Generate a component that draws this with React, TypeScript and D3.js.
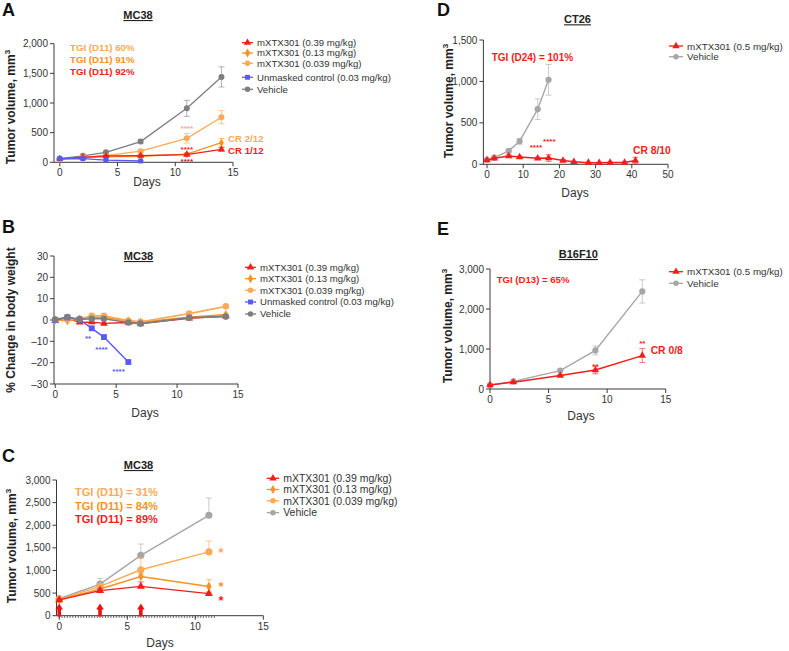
import React from 'react';
import * as d3 from 'd3';

const FONT = '"Liberation Sans", Arial, Helvetica, sans-serif';
const RED = '#f41c1c';
const ORANGE = '#f7931e';
const LORANGE = '#fbaa55';
const BLUE = '#5a5af3';
const GREY_DK = '#7e7e7e';
const GREY = '#a6a6a6';
const AXIS = '#3a3a3a';
const TXT = '#333333';

// ---------- Panel A: MC38 tumor volume ----------
const daysA = [0, 2, 4, 7, 11, 14];
const daysABlue = [0, 2, 4, 7];
const aTx039 = [60, 82, 108, 112, 130, 218];
const aTx039Err = [8, 10, 12, 15, 20, 30];
const aTx013 = [52, 78, 92, 102, 138, 330];
const aTx013Err = [6, 10, 12, 15, 25, 70];
const aTx0039 = [55, 88, 112, 188, 405, 760];
const aTx0039Err = [6, 10, 15, 25, 80, 110];
const aUnmasked = [60, 62, 38, 22];
const aUnmaskedErr = [6, 6, 6, 6];
const aVehicle = [62, 110, 168, 350, 910, 1440];
const aVehicleErr = [8, 12, 18, 35, 135, 170];
const aYTicks = [0, 500, 1000, 1500, 2000];
const aXTicks = [0, 5, 10, 15];
const aTGI = ['TGI (D11) 60%', 'TGI (D11) 91%', 'TGI (D11) 92%'];
const aCR = ['CR 2/12', 'CR 1/12'];
const legendMC38 = [
  'mXTX301 (0.39 mg/kg)',
  'mXTX301 (0.13 mg/kg)',
  'mXTX301 (0.039 mg/kg)',
  'Unmasked control (0.03 mg/kg)',
  'Vehicle',
];

// ---------- Panel B: MC38 body weight ----------
const daysB = [0, 1, 2, 3, 4, 6, 7, 11, 14];
const daysBBlue = [0, 1, 2, 3, 4, 6];
const bTx039 = [-0.3, 0.8, -1.1, -1.0, -1.6, -1.2, -1.7, 0.8, 1.9];
const bTx013 = [0, -0.3, 0.5, 1.4, 1.3, -0.5, -1.0, 1.3, 2.6];
const bTx0039 = [0, 0.2, 0.6, 2.0, 2.0, -0.3, -0.8, 3.0, 6.4];
const bUnmasked = [0, 1.2, 0.2, -3.9, -8.0, -19.7];
const bVehicle = [0.2, 1.4, 0.3, 0.6, 0.6, -1.2, -1.7, 1.1, 1.6];
const bYTicks = [-30, -20, -10, 0, 10, 20, 30];
const bXTicks = [0, 5, 10, 15];

// ---------- Panel C: MC38 (large tumors) ----------
const daysC = [0, 3, 6, 11];
const cTx039 = [350, 555, 648, 487];
const cTx039Err = [20, 40, 100, 35];
const cTx013 = [350, 590, 865, 645];
const cTx013Err = [20, 40, 60, 150];
const cTx0039 = [360, 650, 1015, 1410];
const cTx0039Err = [20, 60, 265, 240];
const cVehicle = [375, 700, 1335, 2220];
const cVehicleErr = [25, 125, 250, 380];
const cDoseDays = [0, 3, 6];
const cYTicks = [0, 500, 1000, 1500, 2000, 2500, 3000];
const cXTicks = [0, 5, 10, 15];
const cTGI = ['TGI (D11) = 31%', 'TGI (D11) = 84%', 'TGI (D11) = 89%'];
const legendC = ['mXTX301 (0.39 mg/kg)', 'mXTX301 (0.13 mg/kg)', 'mXTX301 (0.039 mg/kg)', 'Vehicle'];

// ---------- Panel D: CT26 ----------
const daysDVeh = [0, 2, 6, 9, 14, 17];
const dVehicle = [55, 80, 162, 278, 665, 1020];
const dVehicleErr = [8, 10, 15, 35, 125, 185];
const daysDTx = [0, 2, 6, 9, 14, 17, 21, 24, 28, 31, 34, 38, 41];
const dTx = [50, 72, 100, 88, 72, 75, 45, 30, 20, 18, 22, 22, 45];
const dTxErr = [5, 10, 15, 10, 10, 40, 12, 6, 5, 5, 5, 5, 40];
const dYTicks = [0, 500, 1000, 1500];
const dXTicks = [0, 10, 20, 30, 40, 50];
const legendSingle = ['mXTX301 (0.5 mg/kg)', 'Vehicle'];

// ---------- Panel E: B16F10 ----------
const daysE = [0, 2, 6, 9, 13];
const eVehicle = [100, 190, 460, 965, 2440];
const eVehicleErr = [15, 20, 40, 110, 290];
const eTx = [100, 170, 335, 475, 835];
const eTxErr = [15, 20, 25, 95, 175];
const eYTicks = [0, 1000, 2000, 3000];
const eXTicks = [0, 5, 10, 15];

type Mk = 'tri' | 'dia' | 'circ' | 'sq';
type Series = {
  days: number[];
  vals: number[];
  err?: number[];
  color: string;
  marker: Mk;
  size?: number;
  lw?: number;
  errMode?: 'both' | 'up';
};

const symType = (m: Mk) =>
  m === 'tri' ? d3.symbolTriangle : m === 'dia' ? d3.symbolDiamond : m === 'sq' ? d3.symbolSquare : d3.symbolCircle;

const fmt = d3.format(',');

function YAxis({ sy, x, ticks }: any) {
  return (
    <g>
      <line x1={x} x2={x} y1={sy(d3.min(ticks))} y2={sy(d3.max(ticks))} stroke={AXIS} strokeWidth={1} />
      {ticks.map((t: number) => (
        <g key={t}>
          <line x1={x - 4} x2={x} y1={sy(t)} y2={sy(t)} stroke={AXIS} strokeWidth={1} />
          <text x={x - 6} y={sy(t) + 3.5} textAnchor="end" fontSize={10} fill={TXT}>
            {fmt(t).replace('−', '–')}
          </text>
        </g>
      ))}
    </g>
  );
}

function XAxis({ sx, y, ticks, x0 }: any) {
  return (
    <g>
      <line x1={x0} x2={sx(d3.max(ticks))} y1={y} y2={y} stroke={AXIS} strokeWidth={1} />
      {ticks.map((t: number) => (
        <g key={t}>
          <line x1={sx(t)} x2={sx(t)} y1={y} y2={y + 4} stroke={AXIS} strokeWidth={1} />
          <text x={sx(t)} y={y + 14} textAnchor="middle" fontSize={10} fill={TXT}>
            {t}
          </text>
        </g>
      ))}
    </g>
  );
}

function SeriesG({ s, sx, sy }: { s: Series; sx: any; sy: any }) {
  const line = d3
    .line<number>()
    .x((_, i) => sx(s.days[i]))
    .y((v) => sy(v));
  const sym = d3.symbol().type(symType(s.marker)).size(s.size ?? 28)() as string;
  return (
    <g>
      {s.err &&
        s.days.map((d, i) => {
          const e = s.err![i];
          const x = sx(d);
          const yTop = sy(s.vals[i] + e);
          const yBot = s.errMode === 'up' ? sy(s.vals[i]) : sy(s.vals[i] - e);
          return (
            <g key={'e' + i} stroke={s.color} strokeOpacity={0.6} strokeWidth={1}>
              <line x1={x} x2={x} y1={yTop} y2={yBot} />
              <line x1={x - 3} x2={x + 3} y1={yTop} y2={yTop} />
              {s.errMode !== 'up' && <line x1={x - 3} x2={x + 3} y1={yBot} y2={yBot} />}
            </g>
          );
        })}
      <path d={line(s.vals) as string} fill="none" stroke={s.color} strokeWidth={s.lw ?? 1.3} />
      {s.days.map((d, i) => (
        <path key={i} d={sym} transform={`translate(${sx(d)},${sy(s.vals[i])})`} fill={s.color} />
      ))}
    </g>
  );
}

function Legend({ x, ys, labels, colors, markers, fs, len = 11, sizes }: any) {
  return (
    <g>
      {labels.map((lab: string, i: number) => {
        const sym = d3.symbol().type(symType(markers[i])).size(sizes ? sizes[i] : 24)() as string;
        return (
          <g key={lab}>
            <line x1={x} x2={x + len} y1={ys[i]} y2={ys[i]} stroke={colors[i]} strokeWidth={1.3} />
            <path d={sym} transform={`translate(${x + len / 2},${ys[i]})`} fill={colors[i]} />
            <text x={x + len + 4} y={ys[i] + fs * 0.36} fontSize={fs} fill={TXT}>
              {lab}
            </text>
          </g>
        );
      })}
    </g>
  );
}

function Stars({ sx, sy, day, val, n, color, fs = 8 }: any) {
  return (
    <text x={sx(day)} y={sy(val) + fs * 0.57} textAnchor="middle" fontSize={fs} fontWeight="bold" fill={color}>
      {'*'.repeat(n)}
    </text>
  );
}

function YLabel({ x, cy, text, sup }: any) {
  return (
    <text transform={`translate(${x},${cy}) rotate(-90)`} textAnchor="middle" fontSize={12} fontWeight="bold" fill="#222">
      {text}
      {sup && (
        <tspan fontSize={8} dy={-5}>
          {sup}
        </tspan>
      )}
    </text>
  );
}

function Title({ x, y, text }: any) {
  return (
    <text x={x} y={y} textAnchor="middle" fontSize={11} fontWeight="bold" fill="#222" style={{ textDecoration: 'underline' }}>
      {text}
    </text>
  );
}

function Letter({ x, y, t }: any) {
  return (
    <text x={x} y={y} fontSize={18} fontWeight="bold" fill="#111">
      {t}
    </text>
  );
}

export default function App() {
  // scales
  const sxA = d3.scaleLinear().domain([-0.5, 15]).range([54, 233]);
  const syA = d3.scaleLinear().domain([0, 2000]).range([162.3, 43.7]);
  const sxB = d3.scaleLinear().domain([-0.1, 15]).range([54, 238]);
  const syB = d3.scaleLinear().domain([-30, 30]).range([384, 256]);
  const sxC = d3.scaleLinear().domain([-0.2, 15]).range([56.5, 263.3]);
  const syC = d3.scaleLinear().domain([0, 3000]).range([615.7, 480]);
  const sxD = d3.scaleLinear().domain([-1, 50]).range([483.4, 668]);
  const syD = d3.scaleLinear().domain([0, 1500]).range([164.3, 40]);
  const sxE = d3.scaleLinear().domain([0, 15]).range([490, 665.7]);
  const syE = d3.scaleLinear().domain([0, 3000]).range([389, 269]);

  const seriesA: Series[] = [
    { days: daysA, vals: aVehicle, err: aVehicleErr, color: GREY_DK, marker: 'circ' },
    { days: daysA, vals: aTx0039, err: aTx0039Err, color: LORANGE, marker: 'circ' },
    { days: daysA, vals: aTx013, err: aTx013Err, color: ORANGE, marker: 'dia', size: 20 },
    { days: daysA, vals: aTx039, err: aTx039Err, color: RED, marker: 'tri', size: 22 },
    { days: daysABlue, vals: aUnmasked, err: aUnmaskedErr, color: BLUE, marker: 'sq', size: 24 },
  ];
  const seriesB: Series[] = [
    { days: daysB, vals: bTx039, color: RED, marker: 'tri', size: 26, lw: 1.4 },
    { days: daysB, vals: bTx013, color: ORANGE, marker: 'dia', size: 24, lw: 1.6 },
    { days: daysB, vals: bTx0039, color: LORANGE, marker: 'circ', size: 34, lw: 1.6 },
    { days: daysBBlue, vals: bUnmasked, color: BLUE, marker: 'sq', size: 34, lw: 1.4 },
    { days: daysB, vals: bVehicle, color: GREY_DK, marker: 'circ', size: 34, lw: 1.6 },
  ];
  const seriesC: Series[] = [
    { days: daysC, vals: cVehicle, err: cVehicleErr, color: GREY, marker: 'circ', size: 40, errMode: 'up', lw: 1.4 },
    { days: daysC, vals: cTx0039, err: cTx0039Err, color: LORANGE, marker: 'circ', size: 40, errMode: 'up', lw: 1.4 },
    { days: daysC, vals: cTx013, err: cTx013Err, color: ORANGE, marker: 'dia', size: 26, errMode: 'up', lw: 1.4 },
    { days: daysC, vals: cTx039, err: cTx039Err, color: RED, marker: 'tri', size: 28, errMode: 'up', lw: 1.4 },
  ];
  const seriesD: Series[] = [
    { days: daysDVeh, vals: dVehicle, err: dVehicleErr, color: GREY, marker: 'circ', size: 30, lw: 1.4 },
    { days: daysDTx, vals: dTx, err: dTxErr, color: RED, marker: 'tri', size: 24, lw: 1.5 },
  ];
  const seriesE: Series[] = [
    { days: daysE, vals: eVehicle, err: eVehicleErr, color: GREY, marker: 'circ', size: 30, lw: 1.4 },
    { days: daysE, vals: eTx, err: eTxErr, color: RED, marker: 'tri', size: 24, lw: 1.5 },
  ];

  const minorC = d3.range(0, 11.6, 0.2);
  const arrow = (x: number, b: number) =>
    `M${x - 1.8},${b} L${x - 1.8},${b - 7} L${x - 3.8},${b - 7} L${x},${b - 13} L${x + 3.8},${b - 7} L${x + 1.8},${b - 7} L${x + 1.8},${b} Z`;

  return (
    <svg
      width={789}
      height={651}
      viewBox="0 0 789 651"
      style={{ position: 'absolute', left: 0, top: 0, background: '#fff' }}
      fontFamily={FONT}
    >
      <rect x={0} y={0} width={789} height={651} fill="#fff" />

      {/* ================= Panel A ================= */}
      <Letter x={2} y={16} t="A" />
      <Title x={138} y={19} text="MC38" />
      <YAxis sy={syA} x={54} ticks={aYTicks} />
      <XAxis sx={sxA} y={162.3} ticks={aXTicks} x0={54} />
      <text x={147} y={186} textAnchor="middle" fontSize={12} fill={TXT}>Days</text>
      <YLabel x={15} cy={107} text="Tumor volume, mm" sup="3" />
      {seriesA.map((s, i) => (
        <SeriesG key={i} s={s} sx={sxA} sy={syA} />
      ))}
      <Stars sx={sxA} sy={syA} day={11} val={600} n={4} color="#f5a6a6" />
      <Stars sx={sxA} sy={syA} day={11} val={253} n={4} color="#e8262b" />
      <Stars sx={sxA} sy={syA} day={11} val={50} n={4} color="#b3242a" />
      {aTGI.map((t, i) => (
        <text key={t} x={70} y={51 + i * 12.2} fontSize={9.7} fontWeight="bold" fill={[LORANGE, ORANGE, RED][i]}>
          {t}
        </text>
      ))}
      <text x={228} y={141.5} fontSize={9.7} fontWeight="bold" fill={LORANGE}>{aCR[0]}</text>
      <text x={228} y={154} fontSize={9.7} fontWeight="bold" fill={RED}>{aCR[1]}</text>
      <Legend
        x={242}
        ys={[42.7, 53, 63.3, 77.3, 89.3]}
        labels={legendMC38}
        colors={[RED, ORANGE, LORANGE, BLUE, GREY_DK]}
        markers={['tri', 'dia', 'circ', 'sq', 'circ']}
        fs={9.6}
      />

      {/* ================= Panel B ================= */}
      <Letter x={2} y={233} t="B" />
      <Title x={138.5} y={260} text="MC38" />
      <YAxis sy={syB} x={54} ticks={bYTicks} />
      <XAxis sx={sxB} y={384} ticks={bXTicks} x0={54} />
      <text x={145} y={416.5} textAnchor="middle" fontSize={12} fill={TXT}>Days</text>
      <YLabel x={15} cy={320} text="% Change in body weight" />
      {seriesB.map((s, i) => (
        <SeriesG key={i} s={s} sx={sxB} sy={syB} />
      ))}
      <Stars sx={sxB} sy={syB} day={2.7} val={-7.6} n={2} color={BLUE} />
      <Stars sx={sxB} sy={syB} day={3.8} val={-13} n={4} color={BLUE} />
      <Stars sx={sxB} sy={syB} day={5.2} val={-23} n={4} color={BLUE} />
      <Legend
        x={245}
        ys={[267.3, 278.7, 290.2, 302, 314]}
        labels={legendMC38}
        colors={[RED, ORANGE, LORANGE, BLUE, GREY_DK]}
        markers={['tri', 'dia', 'circ', 'sq', 'circ']}
        fs={9.6}
      />

      {/* ================= Panel C ================= */}
      <Letter x={2} y={461.5} t="C" />
      <Title x={138.5} y={469} text="MC38" />
      {minorC.map((d) => (
        <line key={d} x1={sxC(d)} x2={sxC(d)} y1={615.7} y2={618} stroke={AXIS} strokeWidth={0.7} />
      ))}
      <YAxis sy={syC} x={56.5} ticks={cYTicks} />
      <XAxis sx={sxC} y={615.7} ticks={cXTicks} x0={56.5} />
      <text x={160} y={647} textAnchor="middle" fontSize={12} fill={TXT}>Days</text>
      <YLabel x={16} cy={546} text="Tumor volume, mm" sup="3" />
      {seriesC.map((s, i) => (
        <SeriesG key={i} s={s} sx={sxC} sy={syC} />
      ))}
      {cDoseDays.map((d) => (
        <path key={d} d={arrow(sxC(d), 616.5)} fill="#f01010" />
      ))}
      <Stars sx={sxC} sy={syC} day={11.9} val={1460} n={1} color={LORANGE} fs={13} />
      <Stars sx={sxC} sy={syC} day={11.9} val={700} n={1} color={ORANGE} fs={13} />
      <Stars sx={sxC} sy={syC} day={11.9} val={400} n={1} color={RED} fs={13} />
      {cTGI.map((t, i) => (
        <text key={t} x={75} y={496 + i * 13.5} fontSize={11} fontWeight="bold" fill={[LORANGE, ORANGE, RED][i]}>
          {t}
        </text>
      ))}
      <Legend
        x={266.7}
        ys={[478.3, 489.5, 500.8, 512.7]}
        labels={legendC}
        colors={[RED, ORANGE, LORANGE, GREY]}
        markers={['tri', 'dia', 'circ', 'circ']}
        fs={10.5}
        len={12.5}
      />

      {/* ================= Panel D ================= */}
      <Letter x={437} y={16} t="D" />
      <Title x={577.5} y={23.3} text="CT26" />
      <YAxis sy={syD} x={483.4} ticks={dYTicks} />
      <XAxis sx={sxD} y={164.3} ticks={dXTicks} x0={483.4} />
      <text x={575} y={197} textAnchor="middle" fontSize={12} fill={TXT}>Days</text>
      <YLabel x={453} cy={101} text="Tumor volume, mm" sup="3" />
      {seriesD.map((s, i) => (
        <SeriesG key={i} s={s} sx={sxD} sy={syD} />
      ))}
      <Stars sx={sxD} sy={syD} day={13.5} val={225} n={4} color={RED} />
      <Stars sx={sxD} sy={syD} day={17.2} val={300} n={4} color={RED} />
      <text x={491.7} y={61} fontSize={10} fontWeight="bold" fill={RED}>TGI (D24) = 101%</text>
      <text x={633} y={154} fontSize={10.3} fontWeight="bold" fill={RED}>CR 8/10</text>
      <Legend
        x={669}
        ys={[46, 56.7]}
        labels={legendSingle}
        colors={[RED, GREY]}
        markers={['tri', 'circ']}
        fs={9.8}
        len={14}
      />

      {/* ================= Panel E ================= */}
      <Letter x={437} y={235} t="E" />
      <Title x={578.3} y={258} text="B16F10" />
      <YAxis sy={syE} x={490} ticks={eYTicks} />
      <XAxis sx={sxE} y={389} ticks={eXTicks} x0={490} />
      <text x={581} y={420} textAnchor="middle" fontSize={12} fill={TXT}>Days</text>
      <YLabel x={452} cy={326} text="Tumor volume, mm" sup="3" />
      {seriesE.map((s, i) => (
        <SeriesG key={i} s={s} sx={sxE} sy={syE} />
      ))}
      <Stars sx={sxE} sy={syE} day={9} val={620} n={2} color={RED} />
      <Stars sx={sxE} sy={syE} day={13} val={1180} n={2} color={RED} />
      <text x={496.7} y={283} fontSize={9.6} fontWeight="bold" fill={RED}>TGI (D13) = 65%</text>
      <text x={650.7} y={353.5} fontSize={10.3} fontWeight="bold" fill={RED}>CR 0/8</text>
      <Legend
        x={669}
        ys={[271.7, 283.3]}
        labels={legendSingle}
        colors={[RED, GREY]}
        markers={['tri', 'circ']}
        fs={9.8}
        len={14}
      />
    </svg>
  );
}
